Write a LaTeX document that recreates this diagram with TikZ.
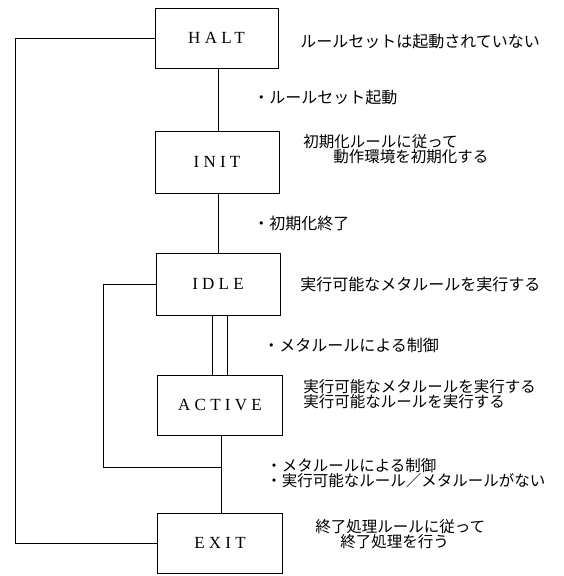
\documentclass[tikz,border=0pt]{standalone}
\usepackage{fontspec}
\newfontfamily\jpfont{Noto Sans CJK JP}
\newfontfamily\boxfont{Liberation Serif}[LetterSpace=25]
\begin{document}
\begin{tikzpicture}[x=1pt,y=-1pt,
  every path/.style={line width=0.85pt},
  state/.style={draw, line width=0.85pt, inner sep=0pt, font=\boxfont\fontsize{17}{17}\selectfont},
  note/.style={inner sep=0pt, anchor=west, align=left, font=\jpfont\fontsize{15.5}{15}\selectfont},
  bignote/.style={note, font=\jpfont\fontsize{16}{16}\selectfont}
]
\useasboundingbox (0,0) rectangle (563,576);

% states
\node[state, minimum width=123pt, minimum height=60pt] (halt) at (216.5,38) {HALT};
\node[state, minimum width=124pt, minimum height=62pt] (init) at (217,162) {INIT};
\node[state, minimum width=124pt, minimum height=62pt] (idle) at (218,284) {IDLE};
\node[state, minimum width=125pt, minimum height=60pt] (active) at (220,405) {ACTIVE};
\node[state, minimum width=125pt, minimum height=60pt] (exit) at (220,543) {EXIT};

% helper coordinates
\coordinate (c1) at (218,0);
\coordinate (d1) at (212,0);
\coordinate (d2) at (227,0);
\coordinate (c3) at (221,0);
\coordinate (loopL) at (103,0);
\coordinate (junc) at (221,467);
\coordinate (outerL) at (15,0);

% connectors
\draw (halt.south -| c1) -- (init.north -| c1);
\draw (init.south -| c1) -- (idle.north -| c1);
\draw (idle.south -| d1) -- (active.north -| d1);
\draw (idle.south -| d2) -- (active.north -| d2);
\draw (active.south -| c3) -- (exit.north -| c3);
\draw (idle.west) -| (loopL |- junc) -- (junc);
\draw (halt.west) -| (outerL |- exit.west) -- (exit.west);

% notes
\node[bignote] (t1) at (300,41) {ルールセットは起動されていない};
\node[bignote] (l1) at (253,97) {・ルールセット起動};
\node[note] (t2) at (303,149.5) {初期化ルールに従って\\\hspace*{30pt}動作環境を初期化する};
\node[bignote] (l2) at (253,223) {・初期化終了};
\node[bignote] (t3) at (300,284) {実行可能なメタルールを実行する};
\node[bignote] (l3) at (263,345) {・メタルールによる制御};
\node[note] (t4) at (303,394.5) {実行可能なメタルールを実行する\\実行可能なルールを実行する};
\node[note] (l4) at (266,473.5) {・メタルールによる制御\\・実行可能なルール／メタルールがない};
\node[note] (t5) at (315,534.5) {終了処理ルールに従って\\\hspace*{25pt}終了処理を行う};
\end{tikzpicture}
\end{document}
